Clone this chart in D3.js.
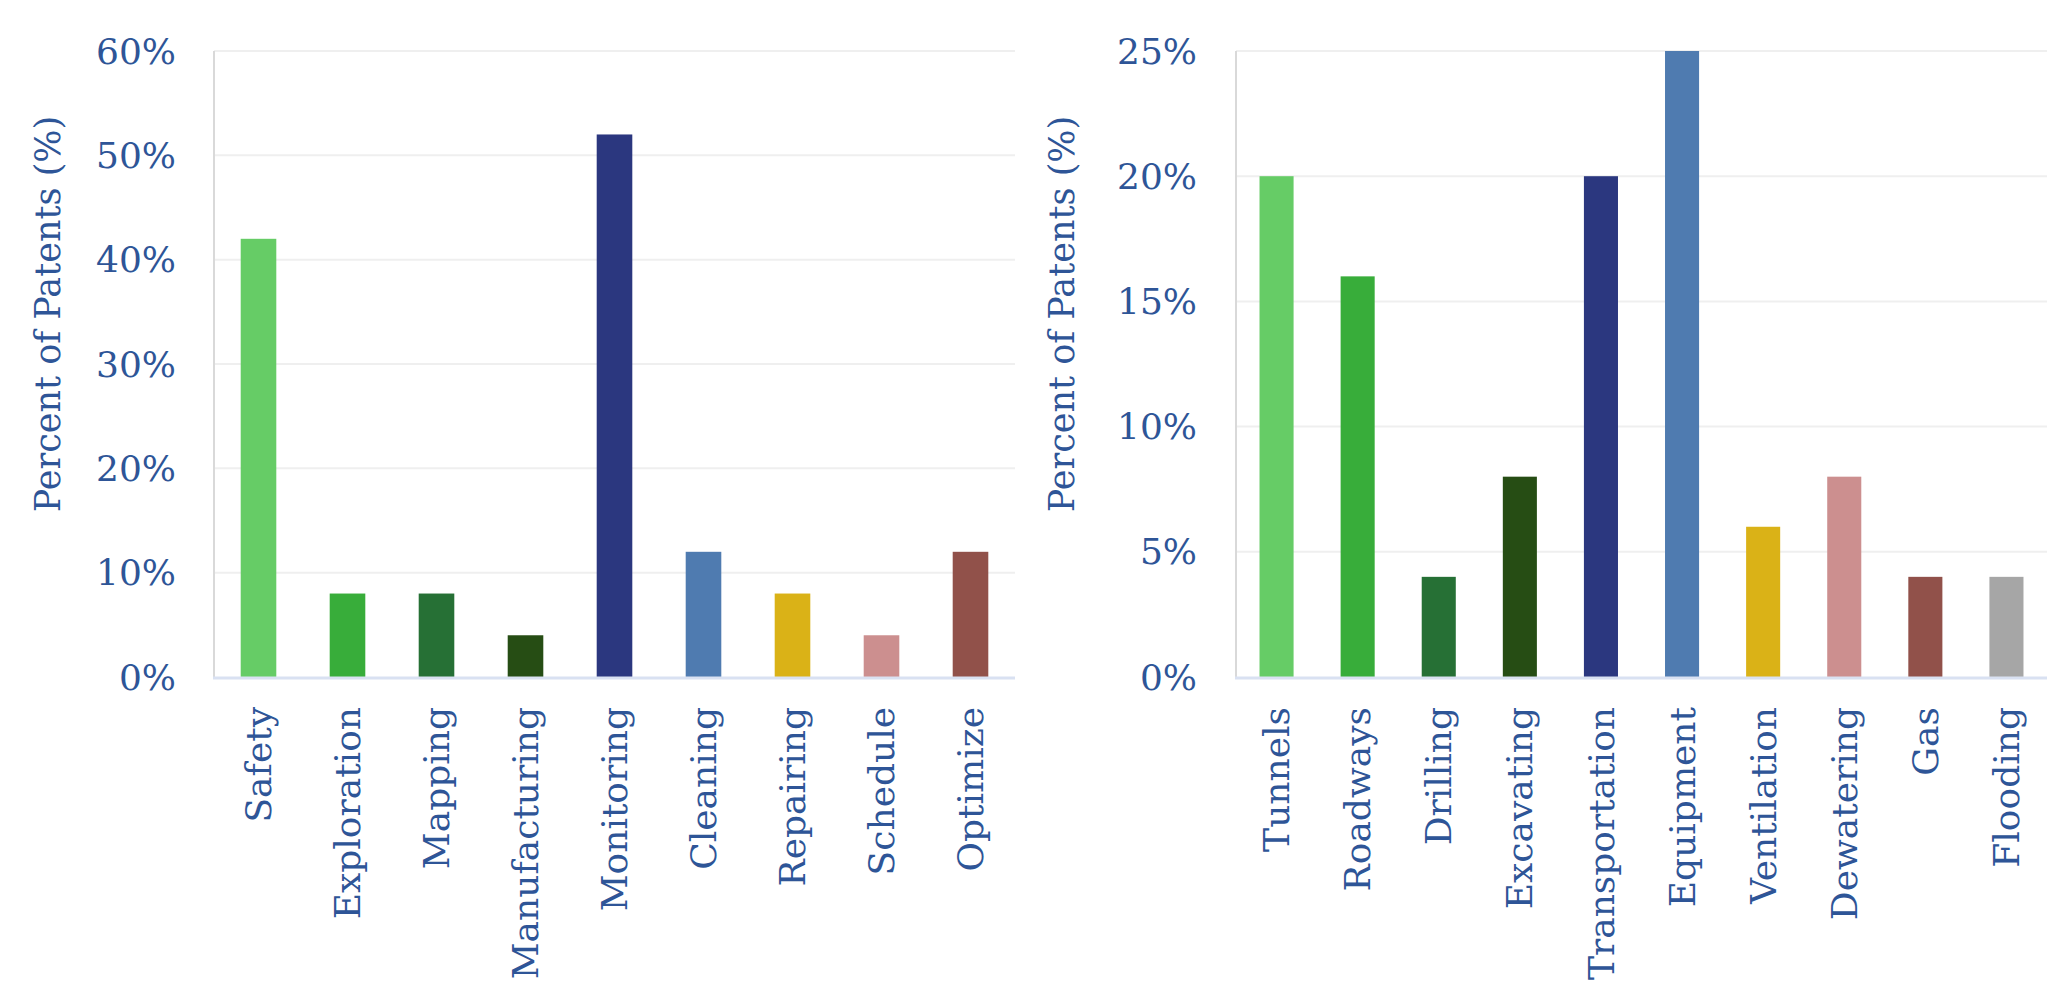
<!DOCTYPE html>
<html>
<head>
<meta charset="utf-8">
<script src="https://cdn.jsdelivr.net/npm/d3@7"></script>
<style>
  body { margin: 0; background: #fff; }
  svg { display: block; }
  text { font-family: "DejaVu Serif", Georgia, serif; fill: #2E5597; }
</style>
</head>
<body>
<script>
// left panel: application of the patent
var leftCategories = ['Safety', 'Exploration', 'Mapping', 'Manufacturing', 'Monitoring', 'Cleaning', 'Repairing', 'Schedule', 'Optimize'];
var leftValues = [42, 8, 8, 4, 52, 12, 8, 4, 12];
var leftColors = ['#66CC66', '#38AD3A', '#267035', '#264D14', '#2B377F', '#4F7BB0', '#DAB217', '#CC8F8F', '#91514A'];
var leftTicks = [0, 10, 20, 30, 40, 50, 60];

// right panel: area of the mine
var rightCategories = ['Tunnels', 'Roadways', 'Drilling', 'Excavating', 'Transportation', 'Equipment', 'Ventilation', 'Dewatering', 'Gas', 'Flooding'];
var rightValues = [20, 16, 4, 8, 20, 25, 6, 8, 4, 4];
var rightColors = ['#66CC66', '#38AD3A', '#267035', '#264D14', '#2B377F', '#4F7BB0', '#DAB217', '#CC8F8F', '#91514A', '#A6A6A6'];
var rightTicks = [0, 5, 10, 15, 20, 25];

var yTitle = 'Percent of Patents (%)';

var svgWidth = 2058, svgHeight = 990;
var svg = d3.select('body').append('svg')
  .attr('width', svgWidth)
  .attr('height', svgHeight);

function drawPanel(opts) {
  var g = svg.append('g');

  var x = d3.scaleBand()
    .domain(opts.categories)
    .range([opts.left, opts.right])
    .paddingInner(opts.pad)
    .paddingOuter(opts.pad / 2);

  var y = d3.scaleLinear()
    .domain([0, d3.max(opts.ticks)])
    .range([opts.bottom, opts.top]);

  // gridlines
  g.selectAll('.grid')
    .data(opts.ticks.filter(function(t) { return t > 0; }))
    .enter().append('line')
    .attr('x1', opts.left)
    .attr('x2', opts.right)
    .attr('y1', function(d) { return y(d); })
    .attr('y2', function(d) { return y(d); })
    .attr('stroke', '#EFEFEF')
    .attr('stroke-width', 2);

  // left axis line
  g.append('line')
    .attr('x1', opts.left).attr('x2', opts.left)
    .attr('y1', y(d3.max(opts.ticks))).attr('y2', y(0))
    .attr('stroke', '#D9D9D9')
    .attr('stroke-width', 2);

  // bars
  g.selectAll('.bar')
    .data(opts.categories)
    .enter().append('rect')
    .attr('x', function(d) { return x(d); })
    .attr('width', x.bandwidth())
    .attr('y', function(d, i) { return y(opts.values[i]); })
    .attr('height', function(d, i) { return y(0) - y(opts.values[i]); })
    .attr('fill', function(d, i) { return opts.colors[i]; });

  // baseline
  g.append('line')
    .attr('x1', opts.left - 1).attr('x2', opts.right)
    .attr('y1', y(0) + 1).attr('y2', y(0) + 1)
    .attr('stroke', '#D9E1F2')
    .attr('stroke-width', 3);

  // y tick labels
  g.selectAll('.ytick')
    .data(opts.ticks)
    .enter().append('text')
    .attr('x', opts.tickX)
    .attr('y', function(d) { return y(d); })
    .attr('dy', '0.35em')
    .attr('text-anchor', 'end')
    .attr('font-size', '36px')
    .text(function(d) { return d + '%'; });

  // category labels
  g.selectAll('.xlab')
    .data(opts.categories)
    .enter().append('text')
    .attr('text-anchor', 'end')
    .attr('font-size', '36px')
    .attr('dy', '0.35em')
    .attr('transform', function(d) {
      return 'translate(' + (x(d) + x.bandwidth() / 2) + ',' + (y(0) + 30) + ')rotate(-90)';
    })
    .text(function(d) { return d; });

  // y title
  g.append('text')
    .attr('text-anchor', 'middle')
    .attr('font-size', '35px')
    .attr('dy', '0.35em')
    .attr('transform', 'translate(' + opts.titleX + ',' + ((opts.top + opts.bottom) / 2 - 50) + ')rotate(-90)')
    .text(yTitle);
}

drawPanel({
  categories: leftCategories, values: leftValues, colors: leftColors, ticks: leftTicks,
  left: 214, right: 1015, top: 51, bottom: 677, pad: 0.6, tickX: 176, titleX: 48
});

drawPanel({
  categories: rightCategories, values: rightValues, colors: rightColors, ticks: rightTicks,
  left: 1236, right: 2047, top: 51, bottom: 677, pad: 0.58, tickX: 1197, titleX: 1062
});
</script>
</body>
</html>
